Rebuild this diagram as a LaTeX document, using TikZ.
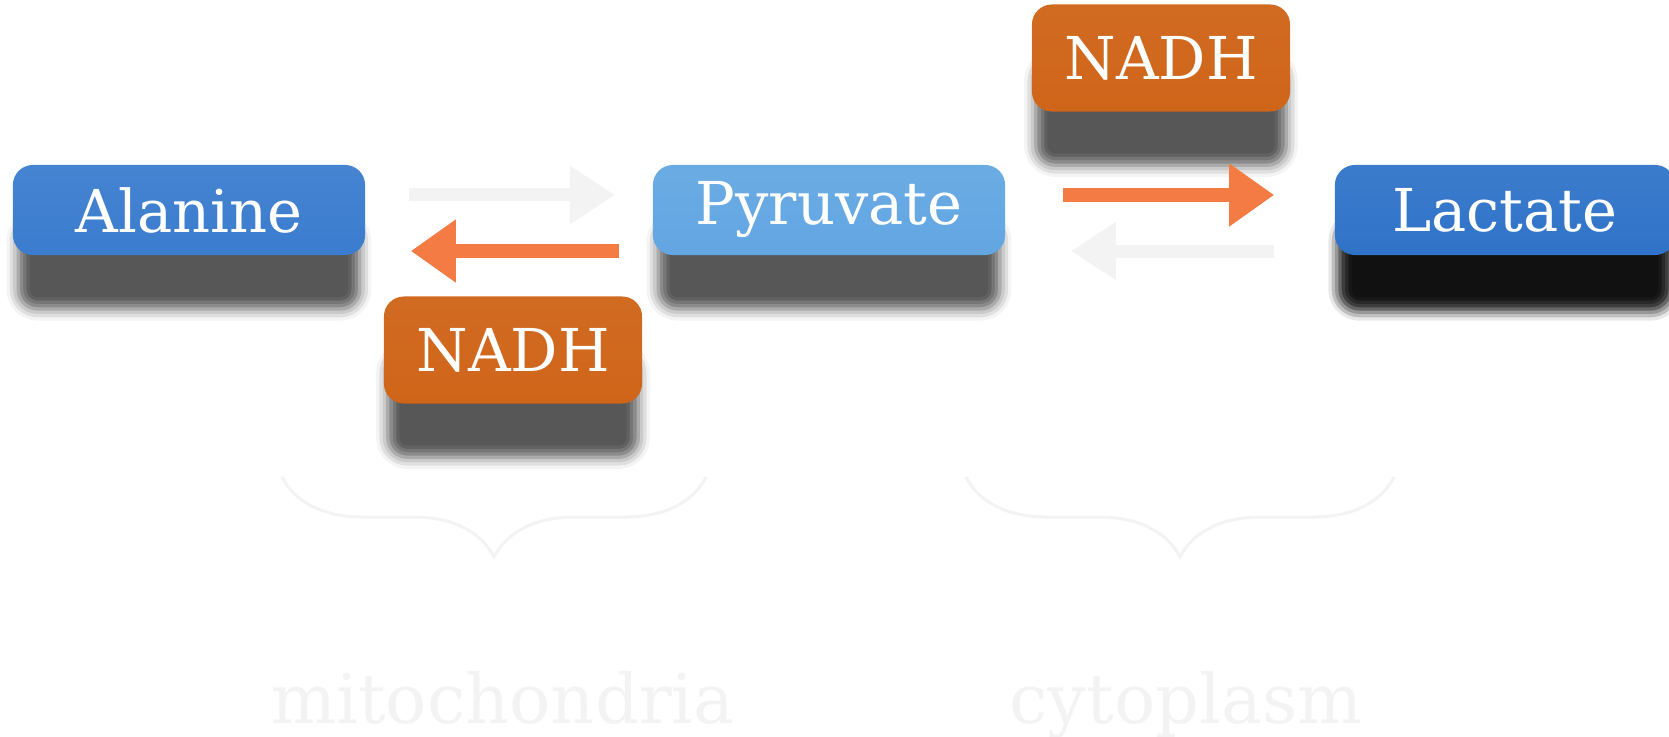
\documentclass[tikz,border=0pt]{standalone}
\usepackage{fontspec}
\setmainfont{DejaVu Serif}
\usetikzlibrary{arrows.meta,shadows.blur,decorations.pathreplacing}
\definecolor{alablue}{HTML}{3A7CCE}
\definecolor{lacblue}{HTML}{2F73C8}
\definecolor{pyrblue}{HTML}{62A6E2}
\definecolor{nadhorange}{HTML}{CF6519}
\definecolor{rxnorange}{HTML}{F47B43}
\definecolor{ghost}{HTML}{F3F3F3}

\begin{document}
\begin{tikzpicture}[x=0.01cm, y=-0.01cm,
      every node/.style = {shape=rectangle, rounded corners=0.2cm,
        align=center, text=white, font=\fontsize{16.8}{20}\selectfont},
      dropshade/.style = {blur shadow={shadow xshift=0cm, shadow yshift=-0.57cm,
          shadow scale=0.97, shadow opacity=#1, shadow blur radius=0.12cm}},
      dropshade/.default = 66,
      molecule/.style = {minimum width=3.52cm, minimum height=0.9cm,
        top color=#1!94!white, bottom color=#1, dropshade},
      cofactor/.style = {minimum width=2.58cm, minimum height=1.07cm,
        top color=nadhorange!96!white, bottom color=nadhorange, dropshade},
      rxn/.style = {draw=rxnorange, line width=0.14cm,
        -{Triangle[length=0.45cm, width=0.6cm]}},
      faint/.style = {draw=ghost, line width=0.13cm,
        -{Triangle[length=0.45cm, width=0.55cm]}},
      brace/.style = {draw=ghost, line width=0.03cm, decorate,
        decoration={brace, mirror, amplitude=0.8cm}},
      place/.style = {text=ghost, rounded corners=0pt, anchor=base,
        inner sep=0pt, font=\fontsize{19.5}{22}\selectfont}]
  \useasboundingbox (0,0) rectangle (1669,737);

  \node[molecule=alablue] (ala) at (189,210) {Alanine};
  \node[molecule=pyrblue] (pyr) at (829,210) {Pyruvate};
  \node[molecule=lacblue, minimum width=3.4cm, dropshade=74] (lac) at (1505,210) {Lactate};
  \node[cofactor] (nadhtop) at (1161,58) {NADH};
  \node[cofactor] (nadhbot) at (513,350) {NADH};

  % reactions
  \draw[faint, shorten <=0.43cm, shorten >=0.37cm]
    ([yshift=0.15cm]ala.east) -- ([yshift=0.15cm]pyr.west);
  \draw[rxn, shorten <=0.33cm, shorten >=0.45cm]
    ([yshift=-0.41cm]pyr.west) -- ([yshift=-0.41cm]ala.east);
  \draw[rxn, shorten <=0.57cm, shorten >=0.6cm]
    ([yshift=0.15cm]pyr.east) -- ([yshift=0.15cm]lac.west);
  \draw[faint, shorten <=0.6cm, shorten >=0.65cm]
    ([yshift=-0.41cm]lac.west) -- ([yshift=-0.41cm]pyr.east);

  % compartments
  \draw[brace] (282,477) -- (706,477);
  \draw[brace] (966,477) -- (1394,477);
  \node[place] (mito) at (503,724) {mitochondria};
  \node[place] (cyto) at (1186,724) {cytoplasm};
\end{tikzpicture}
\end{document}
